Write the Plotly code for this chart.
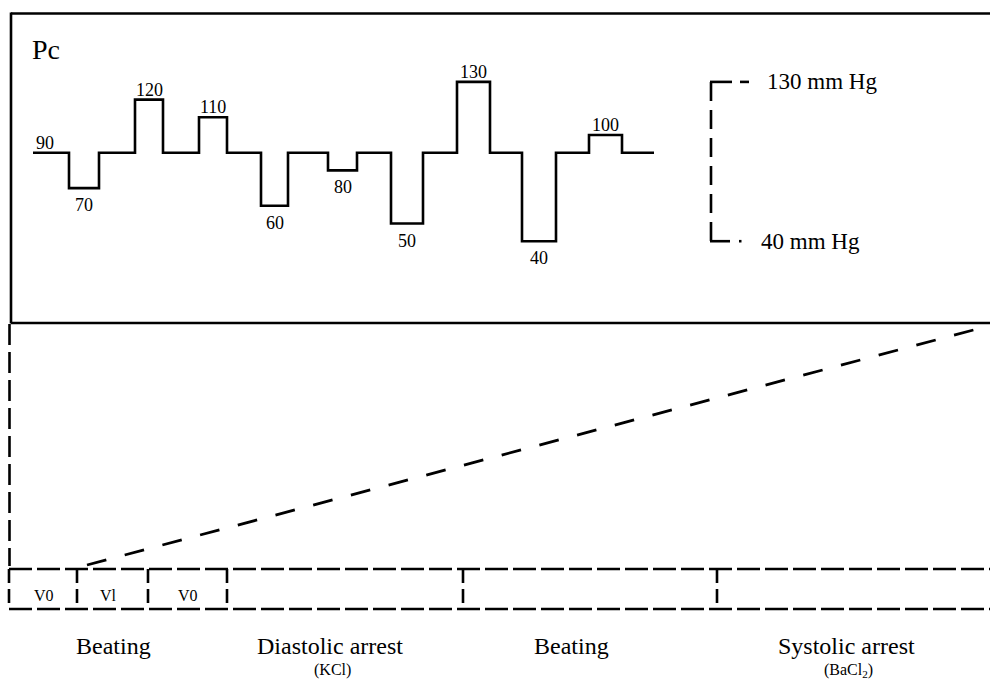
import plotly.graph_objects as go

# ---------------- data ----------------
pc_values = [90, 70, 90, 120, 90, 110, 90, 60, 90, 80, 90, 50, 90, 130, 90, 40, 90, 100, 90]
step_edges = [0, 36, 66, 102, 130, 166, 194, 228, 255, 295, 324, 358, 390, 424, 457, 489, 523, 556, 589, 621]
labelled_steps = [0, 1, 3, 5, 7, 9, 11, 13, 15, 17]
scale_values = [130, 40]
scale_unit = "mm Hg"
panel_label = "Pc"
sub_labels = ["V0", "Vl", "V0"]
phase_labels = ["Beating", "Diastolic arrest", "Beating", "Systolic arrest"]
phase_agents = ["", "(KCl)", "", "(BaCl<sub>2</sub>)"]

# ---------------- layout helpers ----------------
W, H = 990, 679
FONT = "Liberation Serif, Times New Roman, serif"
A, B = 312.0, 1.77          # pixel mapping of the pressure axis
T0 = 33                     # pixel of time 0
LW = 2.6


def px(x):
    return x / W


def py(y):
    return 1 - y / H


fig = go.Figure()

# step trace of Pc
xs = step_edges[:-1] + [step_edges[-1]]
ys = pc_values + [pc_values[-1]]
fig.add_trace(go.Scatter(x=xs, y=ys, mode="lines", line=dict(color="black", width=LW, shape="hv"),
                         hoverinfo="skip", showlegend=False))

shapes = []
annotations = []


def seg(x0, y0, x1, y1, dash=None, width=LW, yref="paper"):
    line = dict(color="black", width=width)
    if dash:
        line["dash"] = dash
    if yref == "paper":
        y0, y1 = py(y0), py(y1)
    shapes.append(dict(type="line", xref="paper", yref=yref, x0=px(x0), x1=px(x1), y0=y0, y1=y1, line=line))


# top solid box (open to the right, runs to the edge)
seg(11, 13.5, 990, 13.5)
seg(11, 12.5, 11, 323.5)
seg(11, 323, 990, 323)

# left dashed connector
seg(9.5, 324, 9.5, 566, dash="21px,7px")
# diagonal dashed connector
seg(87, 565, 990, 325.6, dash="20px,19px", width=2.8)

# bottom row of dashed boxes
row_top, row_bot = 569, 609
for yy in (row_top, row_bot):
    seg(9, yy, 990, yy, dash="23px,5px")
for xx in (9, 77, 148, 227, 463, 717):
    seg(xx, row_top, xx, row_bot, dash="14px,6px")

# scale bracket (tied to pressure axis)
top_v, bot_v = scale_values
seg(711, top_v, 711, bot_v, dash="19px,9px", yref="y")
seg(710, top_v, 732, top_v, yref="y")
seg(740, top_v, 749, top_v, yref="y")
seg(710, bot_v, 730, bot_v, yref="y")
seg(739, bot_v, 741.5, bot_v, yref="y")

annotations.append(dict(xref="paper", yref="y", x=px(765), y=top_v, xanchor="left", yanchor="middle",
                        text=f"{top_v} {scale_unit}", showarrow=False, font=dict(family=FONT, size=23, color="black")))
annotations.append(dict(xref="paper", yref="y", x=px(759), y=bot_v, xanchor="left", yanchor="middle",
                        text=f"{bot_v} {scale_unit}", showarrow=False, font=dict(family=FONT, size=23, color="black")))

# value labels on steps
for i in labelled_steps:
    v = pc_values[i]
    xc = (step_edges[i] + step_edges[i + 1]) / 2
    above = v >= 90
    annotations.append(dict(x=xc, y=v, xref="x", yref="y", text=str(v), showarrow=False,
                            xanchor="center", yanchor="middle",
                            xshift=-6 if i == 0 else 0,
                            yshift=10 if above else -17,
                            font=dict(family=FONT, size=18, color="black")))

# panel label
annotations.append(dict(xref="paper", yref="paper", x=px(30), y=py(50), xanchor="left", yanchor="middle",
                        text=panel_label, showarrow=False, font=dict(family=FONT, size=28, color="black")))

# sub labels in the boxes
for lab, xc in zip(sub_labels, (44, 108, 188)):
    annotations.append(dict(xref="paper", yref="paper", x=px(xc), y=py(595), xanchor="center", yanchor="middle",
                            text=lab, showarrow=False, font=dict(family=FONT, size=16, color="black")))

# phase labels
for lab, agent, xc in zip(phase_labels, phase_agents, (113, 330, 571, 846)):
    annotations.append(dict(xref="paper", yref="paper", x=px(xc), y=py(646), xanchor="center", yanchor="middle",
                            text=lab, showarrow=False, font=dict(family=FONT, size=24, color="black")))
    if agent:
        annotations.append(dict(xref="paper", yref="paper", x=px(xc + 2), y=py(670), xanchor="center",
                                yanchor="middle", text=agent, showarrow=False,
                                font=dict(family=FONT, size=16, color="black")))

fig.update_layout(
    width=W, height=H,
    margin=dict(l=0, r=0, t=0, b=0),
    paper_bgcolor="white", plot_bgcolor="white",
    showlegend=False,
    xaxis=dict(range=[-T0, W - T0], visible=False, fixedrange=True),
    yaxis=dict(range=[(A - H) / B, A / B], visible=False, fixedrange=True),
    shapes=shapes,
    annotations=annotations,
)

fig.write_html("out.html", config={"displayModeBar": False},
               post_script="document.body.style.margin='0';document.body.style.overflow='hidden';")
